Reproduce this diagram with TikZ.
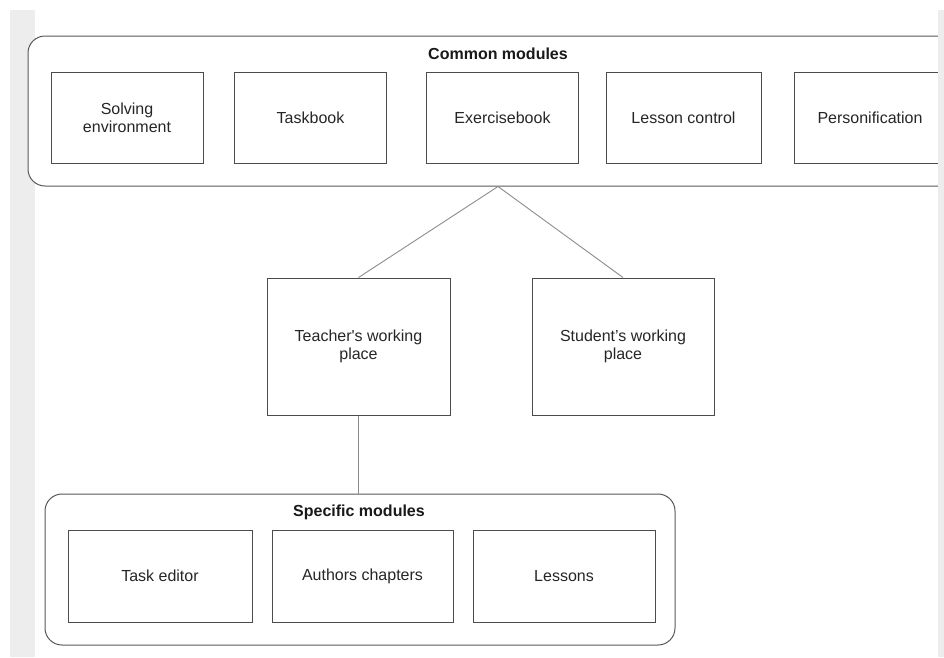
\documentclass[tikz,border=0pt]{standalone}
\usepackage{fontspec}
\setmainfont{Liberation Sans}[Ligatures=TeXOff]

\begin{document}
\begin{tikzpicture}[x=1pt,y=-1pt,
        module/.style={draw=black!70, fill=white, line width=1pt, minimum width=152pt, minimum height=91pt,
            align=center, inner sep=0pt, text=black!85, font=\fontsize{16}{18}\selectfont},
        group/.style={draw=black!65, fill=white, line width=1pt, rounded corners=17pt, inner sep=0pt},
        grouptitle/.style={anchor=base, text=black!90, font=\bfseries\fontsize{16}{18}\selectfont},
        link/.style={draw=black!45, line width=0.9pt}]

    \useasboundingbox (0,0) rectangle (944,657);
    \clip (0,0) rectangle (944,657);

    % gray margin on the left
    \fill[black!7] (10,10) rectangle (35,657);

    % Common modules on top
    \node[group, minimum width=940pt, minimum height=150pt] (common) at (498,111) {};
    \node[grouptitle] (commontitle) at (498,59) {Common modules};
    \node[module] (solving) at (127,117.5) {Solving\\environment};
    \node[module] (taskbook) at (310.5,117.5) {Taskbook};
    \node[module] (exercise) at (502.5,117.5) {Exercisebook};
    \node[module, minimum width=155pt] (lesson) at (683.5,117.5) {Lesson control};
    \node[module] (person) at (870,117.5) {Personification};

    % working places
    \node[module, minimum width=183pt, minimum height=137pt] (teacher) at (358.5,346.5) {Teacher's working\\place};
    \node[module, minimum width=182pt, minimum height=137pt] (student) at (623,346.5) {Student’s working\\place};

    % Specific modules at the bottom
    \node[group, minimum width=630pt, minimum height=151pt] (specific) at (360,569.5) {};
    \node[grouptitle] (specifictitle) at (359,516) {Specific modules};
    \node[module, minimum width=184pt, minimum height=92pt] (taskeditor) at (160,576) {Task editor};
    \node[module, minimum width=181pt, minimum height=92pt] (authors) at (362.5,576) {Authors chapters};
    \node[module, minimum width=182pt, minimum height=92pt] (lessons) at (564,576) {Lessons};

    % links
    \draw[link] (common.south) -- (teacher.north);
    \draw[link] (common.south) -- (student.north);
    \draw[link] (teacher.south) -- (teacher.south |- specific.north);

    % gray margin on the right
    \fill[black!7] (938,10) rectangle (944,657);

\end{tikzpicture}
\end{document}
